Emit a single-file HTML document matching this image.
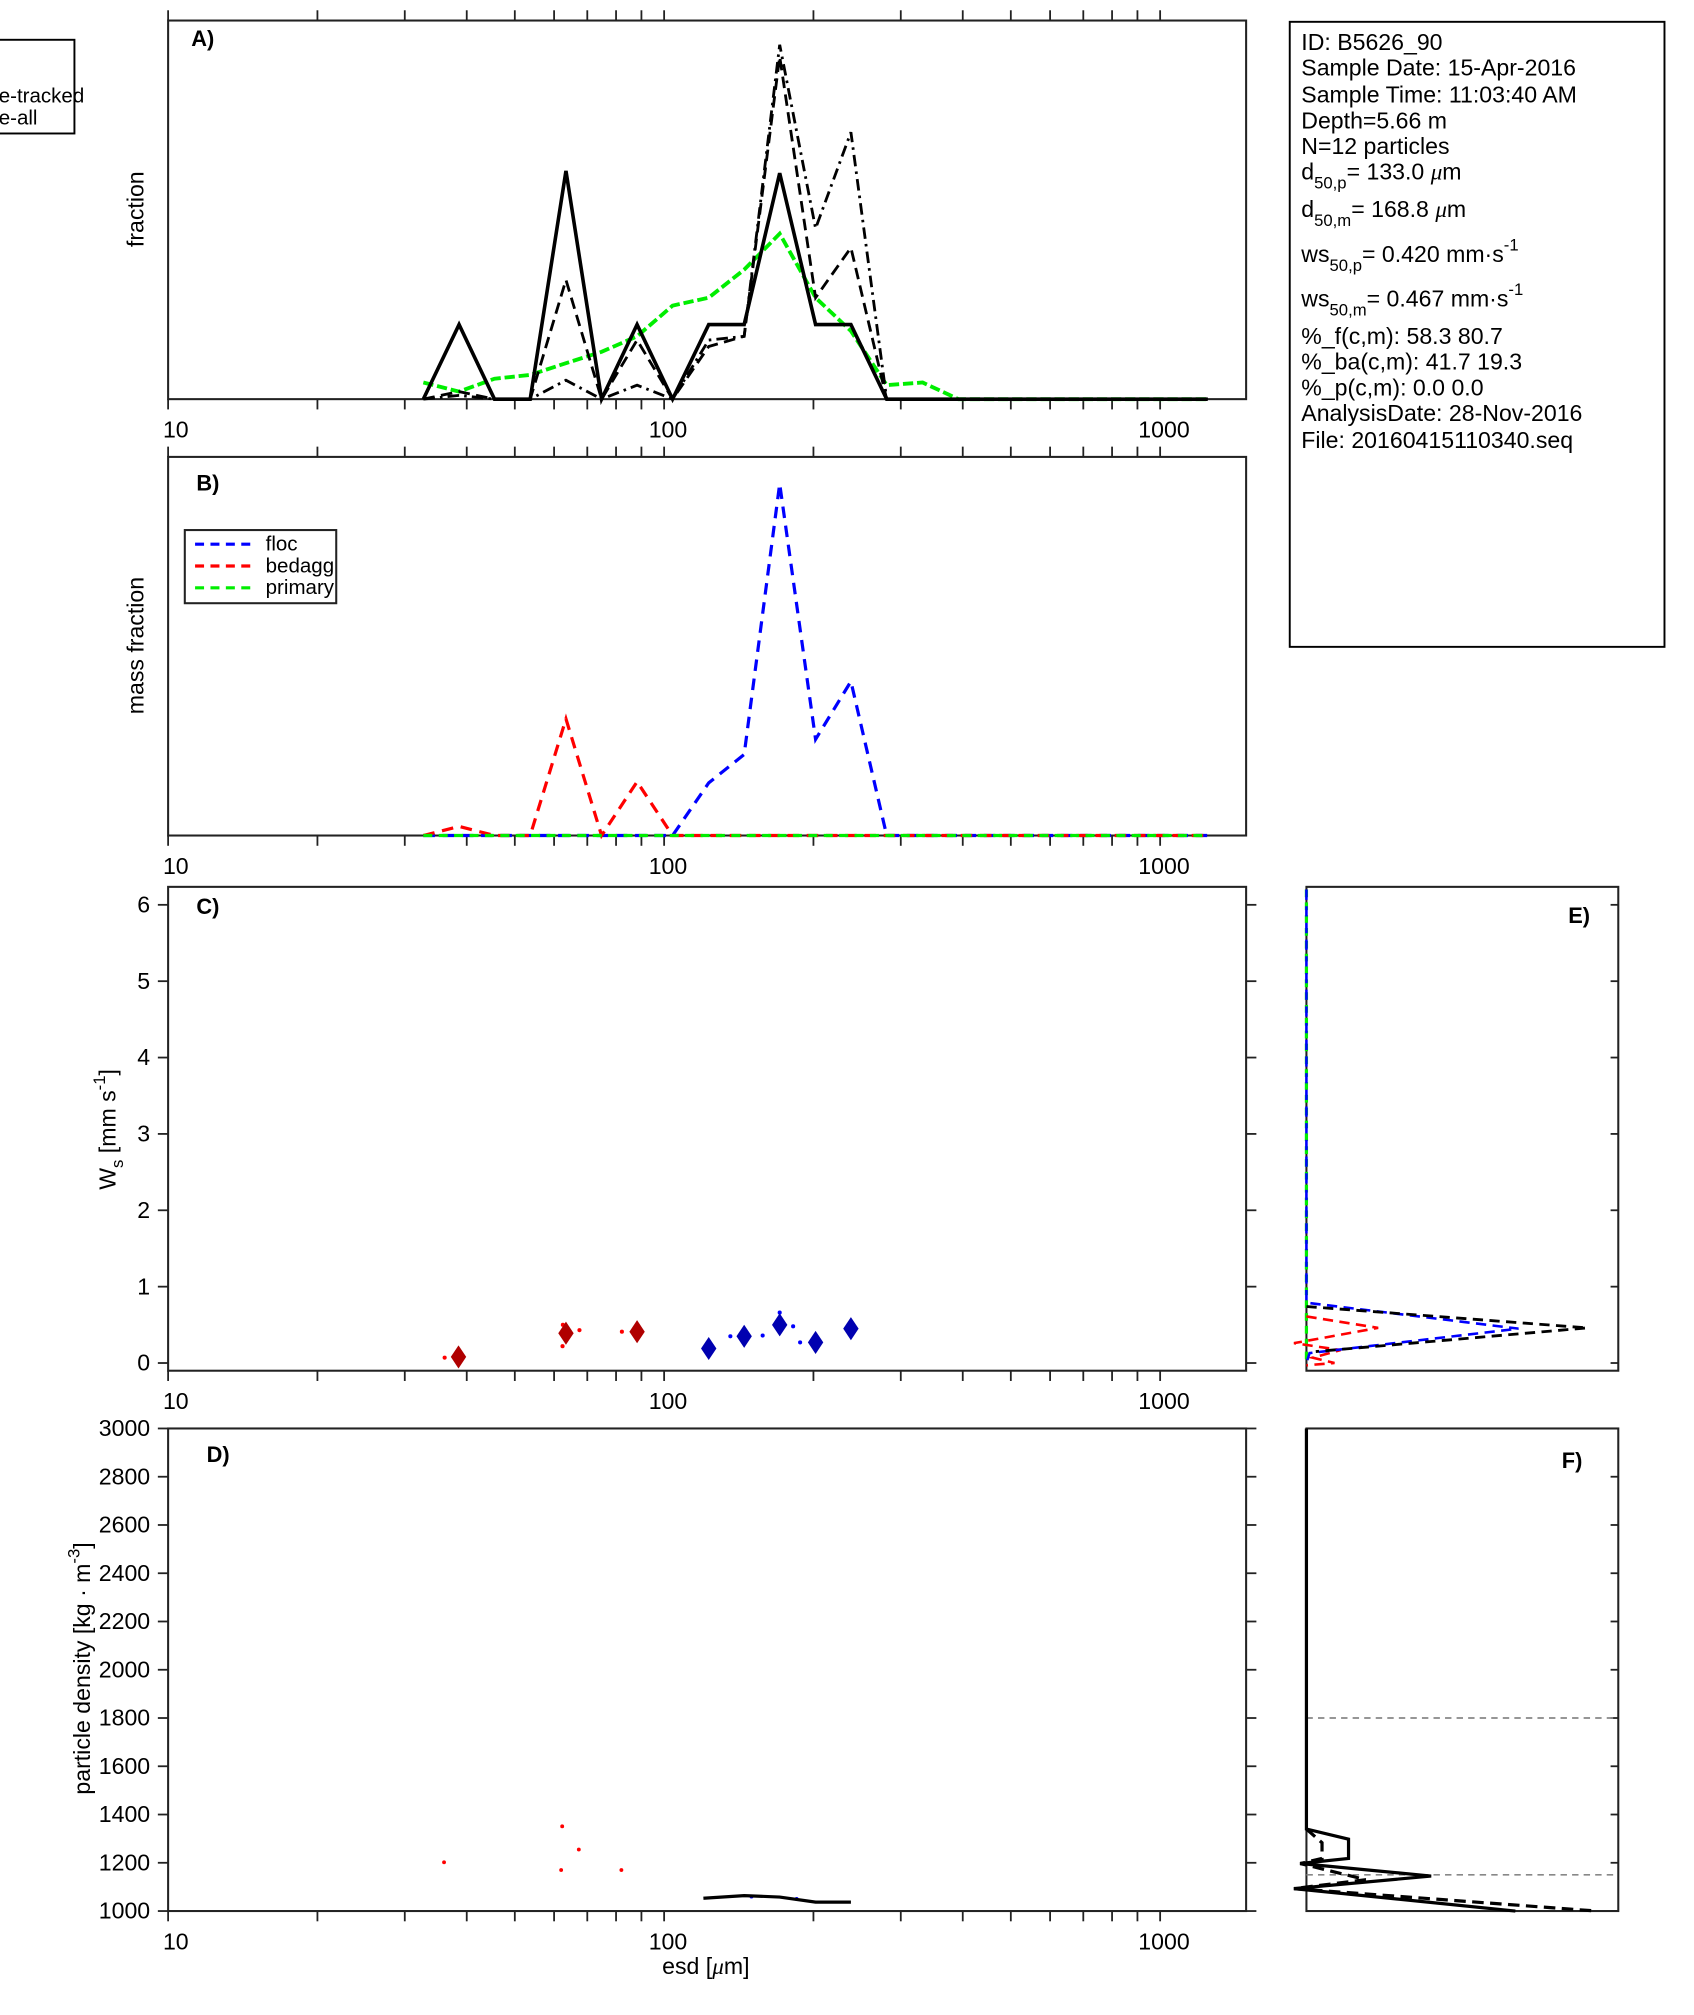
<!DOCTYPE html>
<html><head><meta charset="utf-8"><style>
html,body{margin:0;padding:0;background:#fff;}
svg{display:block;}
text{font-family:"Liberation Sans",sans-serif;fill:#000;}
</style></head>
<body>
<svg id="fig" width="1694" height="2015" viewBox="0 0 1320 1570" preserveAspectRatio="none" xmlns="http://www.w3.org/2000/svg">
<rect x="0" y="0" width="1320" height="1570" fill="#fff"/>
<g>
<rect x="-2" y="31" width="60" height="73" fill="#fff" stroke="#000" stroke-width="1.5"/>
<text x="-1" y="80" font-size="16">e-tracked</text>
<text x="-1" y="97" font-size="16">e-all</text>
</g>
<g font-size="18">
<rect x="1005" y="17" width="292" height="487" fill="#fff" stroke="#000" stroke-width="1.5"/>
<text x="1014" y="39">ID: B5626_90</text>
<text x="1014" y="59">Sample Date: 15-Apr-2016</text>
<text x="1014" y="80">Sample Time: 11:03:40 AM</text>
<text x="1014" y="100">Depth=5.66 m</text>
<text x="1014" y="120">N=12 particles</text>
<text x="1014" y="140">d<tspan font-size="13" dy="7">50,p</tspan><tspan dy="-7">= 133.0 </tspan><tspan font-family="Liberation Serif" font-style="italic">μ</tspan>m</text>
<text x="1014" y="169">d<tspan font-size="13" dy="7">50,m</tspan><tspan dy="-7">= 168.8 </tspan><tspan font-family="Liberation Serif" font-style="italic">μ</tspan>m</text>
<text x="1014" y="204">ws<tspan font-size="13" dy="7">50,p</tspan><tspan dy="-7">= 0.420 mm·s</tspan><tspan font-size="13" dy="-9">-1</tspan></text>
<text x="1014" y="239">ws<tspan font-size="13" dy="7">50,m</tspan><tspan dy="-7">= 0.467 mm·s</tspan><tspan font-size="13" dy="-9">-1</tspan></text>
<text x="1014" y="268">%_f(c,m): 58.3 80.7</text>
<text x="1014" y="288">%_ba(c,m): 41.7 19.3</text>
<text x="1014" y="308">%_p(c,m): 0.0 0.0</text>
<text x="1014" y="328">AnalysisDate: 28-Nov-2016</text>
<text x="1014" y="349">File: 20160415110340.seq</text>
</g>
<g id="plots"></g>
</svg>
<script>
const bins = [32.7,38.6,45.5,53.7,63.4,74.8,88.2,104,123,145,171,202,238,281,332,392,462,545,643,759,896,1057,1247];
const fracTracked = [0,0.197,0,0,0.603,0,0.197,0,0.197,0.197,0.597,0.197,0.197,0,0,0,0,0,0,0,0,0,0];
const fracDashed  = [0,0.02,0,0,0.315,0,0.156,0,0.139,0.166,0.905,0.268,0.40,0,0,0,0,0,0,0,0,0,0];
const fracDashDot = [0,0.01,0,0,0.05,0,0.037,0,0.156,0.166,0.936,0.451,0.705,0,0,0,0,0,0,0,0,0,0];
const fracPrimary = [0.044,0.02,0.054,0.064,0.095,0.125,0.166,0.247,0.268,0.342,0.437,0.268,0.18,0.037,0.044,0,0,0,0,0,0,0,0];
const massFloc    = [0,0,0,0,0,0,0,0,0.139,0.214,0.929,0.254,0.407,0,0,0,0,0,0,0,0,0,0];
const massBedagg  = [0,0.024,0,0,0.308,0,0.142,0,0,0,0,0,0,0,0,0,0,0,0,0,0,0,0];
const massPrimary = [0,0,0,0,0,0,0,0,0,0,0,0,0,0,0,0,0,0,0,0,0,0,0];
const wsBedaggSize = [38.5,63.4,88.2];
const wsBedaggVal  = [0.08,0.39,0.41];
const wsFlocSize   = [123,145,171,202,238];
const wsFlocVal    = [0.19,0.35,0.50,0.27,0.45];
const wsRedDotSize = [36.1,62.5,62.4,67.5,82.2];
const wsRedDotVal  = [0.07,0.50,0.22,0.43,0.41];
const wsBlueDotSize= [136,158,171,182,188];
const wsBlueDotVal = [0.35,0.36,0.66,0.48,0.27];
const rhoRedSize = [36.0,62.3,67.3,62.0,82.0];
const rhoRedVal  = [1202,1351,1255,1170,1170];
const rhoLineSize = [120,145,171,202,238];
const rhoLineVal  = [1053,1064,1058,1037,1037];
const rhoBlueDotSize = [150,185];
const rhoBlueDotVal  = [1060,1050];
const eBlueWs = [6.2,0.79,0.45,0.13,0];
const eBlueFr = [0,0,0.68,0.01,0];
const eBlackWs = [0.74,0.46,0.15];
const eBlackFr = [0,0.90,0.03];
const eRedWs = [0.61,0.46,0.26,0.17,0.07,0.0,-0.03];
const eRedFr = [0,0.23,-0.04,0.11,0.02,0.09,0];
const eGreenWs = [6.2,0];
const eGreenFr = [0,0];
const fSolidRho = [3000,1340,1298,1218,1197,1145,1093,1000];
const fSolidFr  = [0,0,0.135,0.135,-0.02,0.40,-0.04,0.67];
const fDashRho  = [1340,1283,1218,1197,1130,1093,1000];
const fDashFr   = [0,0.05,0.05,-0.02,0.19,-0.04,0.93];
const fRefRho = [1800,1150];
const xMajor = [10,100,1000];
const xMinor = [20,30,40,50,60,70,80,90,200,300,400,500,600,700,800,900];
const wsTicks = [0,1,2,3,4,5,6];
const rhoTicks = [1000,1200,1400,1600,1800,2000,2200,2400,2600,2800,3000];

const NS='http://www.w3.org/2000/svg';
const root=document.getElementById('plots');
function mk(tag,attrs,parent){const e=document.createElementNS(NS,tag);for(const k in attrs)e.setAttribute(k,attrs[k]);(parent||root).appendChild(e);return e;}
const X0=131, DEC=386.5, XR=971;
function xs(v){return X0+DEC*Math.log10(v/10);}
const panA={top:16,bot:311}, panB={top:356,bot:651}, panC={top:691,bot:1068}, panD={top:1113,bot:1489};
function yA(v){return panA.bot-v*(panA.bot-panA.top);}
function yB(v){return panB.bot-v*(panB.bot-panB.top);}
function yC(v){return 1062-v*59.5;}
function yD(v){return 1489-(v-1000)/200*37.6;}
const EX0=1018, EX1=1261;
function xE(f){return EX0+f*(EX1-EX0);}
function pts(xa,ya,fx,fy){return xa.map((v,i)=>fx(v)+','+fy(ya[i])).join(' ');}

function frame(p,name,topTicks){
  const g=mk('g',{});
  
  
  mk('rect',{x:X0,y:p.top,width:XR-X0,height:p.bot-p.top,fill:'none',stroke:'#222','stroke-width':1.6},g);
  xMajor.concat(xMinor).forEach(v=>{
    const x=xs(v);
    mk('line',{x1:x,x2:x,y1:p.bot,y2:p.bot+8,stroke:'#222','stroke-width':1.4},g);
    if(topTicks) mk('line',{x1:x,x2:x,y1:p.top,y2:p.top-8,stroke:'#222','stroke-width':1.4},g);
  });
  xMajor.forEach(v=>{
    const t=mk('text',{x:xs(v)+(v===10?6:3),y:p.bot+30,'font-size':18,'text-anchor':'middle'},g);
    t.textContent=String(v);
  });
  return g;
}
function line(name,xa,ya,fx,fy,color,w,dash){
  const e=mk('polyline',{points:pts(xa,ya,fx,fy),fill:'none',stroke:color,'stroke-width':w,'stroke-linejoin':'miter'});
  if(dash) e.setAttribute('stroke-dasharray',dash);
  
  
  return e;
}
function label(txt,x,y,size,extra){
  const t=mk('text',Object.assign({x:x,y:y,'font-size':size},extra||{}));
  t.textContent=txt;return t;
}

frame(panA,'panel-a-axes',true);
line('series-primary-fraction',bins,fracPrimary,xs,yA,'#00ee00',3,'8,3');
line('series-tracked-fraction',bins,fracTracked,xs,yA,'#000',2.8,null);
line('series-all-fraction',bins,fracDashed,xs,yA,'#000',2.2,'9,5');
line('series-dashdot-fraction',bins,fracDashDot,xs,yA,'#000',2.2,'9,4,2,4');
const la=label('A)',149,36,17,{'font-weight':'bold'});


const ya=label('fraction',112,163,18,{'text-anchor':'middle',transform:'rotate(-90 112 163)'});



frame(panB,'panel-b-axes',true);
line('series-floc-mass',bins,massFloc,xs,yB,'#0000ff',2.5,'9,6');
line('series-bedagg-mass',bins,massBedagg,xs,yB,'#ff0000',2.5,'9,6');
line('series-primary-mass',bins,massPrimary,xs,yB,'#00ee00',2.5,'7,5');
const lb=label('B)',153,382,17,{'font-weight':'bold'});


const yb=label('mass fraction',112,503,18,{'text-anchor':'middle',transform:'rotate(-90 112 503)'});


const leg=mk('g',{});


mk('rect',{x:144,y:413,width:118,height:57,fill:'#fff',stroke:'#222','stroke-width':1.6},leg);
[['floc','#0000ff',424],['bedagg','#ff0000',441],['primary','#00ee00',458]].forEach(r=>{
  const ent=mk('g',{},leg);
  
  
  mk('line',{x1:152,x2:200,y1:r[2],y2:r[2],stroke:r[1],'stroke-width':2.5,'stroke-dasharray':'7,5'},ent);
  const t=mk('text',{x:207,y:r[2]+5,'font-size':16},ent);t.textContent=r[0];
});

frame(panC,'panel-c-axes',false);
wsTicks.forEach(v=>{
  mk('line',{x1:123,x2:X0,y1:yC(v),y2:yC(v),stroke:'#222','stroke-width':1.4});
  mk('line',{x1:XR,x2:XR+8,y1:yC(v),y2:yC(v),stroke:'#222','stroke-width':1.4});
  const t=label(String(v),117,yC(v)+6,18,{'text-anchor':'end'});
  
  
});
const lc=label('C)',153,712,17,{'font-weight':'bold'});


const yc=mk('text',{x:90,y:880,'font-size':18,'text-anchor':'middle',transform:'rotate(-90 90 880)'});
yc.innerHTML='W<tspan font-size="13" dy="6">s</tspan><tspan dy="-6"> [mm s</tspan><tspan font-size="13" dy="-8">-1</tspan><tspan dy="8">]</tspan>';


function diamond(x,y,c,name){
  const d=mk('polygon',{points:`${x},${y-9} ${x+6},${y} ${x},${y+9} ${x-6},${y}`,fill:c});
  
  
}
function dot(x,y,c,r,name){
  const d=mk('circle',{cx:x,cy:y,r:r,fill:c});
  
  
}
wsRedDotSize.forEach((s,i)=>dot(xs(s),yC(wsRedDotVal[i]),'#ff0000',1.6,'ws-bedagg-particle'));
wsBlueDotSize.forEach((s,i)=>dot(xs(s),yC(wsBlueDotVal[i]),'#0000ff',1.6,'ws-floc-particle'));
wsBedaggSize.forEach((s,i)=>diamond(xs(s),yC(wsBedaggVal[i]),'#b00000','ws-bedagg-median'));
wsFlocSize.forEach((s,i)=>diamond(xs(s),yC(wsFlocVal[i]),'#0000b0','ws-floc-median'));

frame(panD,'panel-d-axes',false);
rhoTicks.forEach(v=>{
  mk('line',{x1:123,x2:X0,y1:yD(v),y2:yD(v),stroke:'#222','stroke-width':1.4});
  mk('line',{x1:XR,x2:XR+8,y1:yD(v),y2:yD(v),stroke:'#222','stroke-width':1.4});
  const t=label(String(v),117,yD(v)+6,18,{'text-anchor':'end'});
  
  
});
const ld=label('D)',161,1139,17,{'font-weight':'bold'});


const yd=mk('text',{x:70,y:1300,'font-size':18,'text-anchor':'middle',transform:'rotate(-90 70 1300)'});
yd.innerHTML='particle density [kg · m<tspan font-size="13" dy="-8">-3</tspan><tspan dy="8">]</tspan>';


const xd=mk('text',{x:550,y:1538,'font-size':18,'text-anchor':'middle'});
xd.innerHTML='esd [<tspan font-family="Liberation Serif" font-style="italic">μ</tspan>m]';


rhoRedSize.forEach((s,i)=>dot(xs(s),yD(rhoRedVal[i]),'#ff0000',1.5,'density-bedagg-particle'));
rhoBlueDotSize.forEach((s,i)=>dot(xs(s),yD(rhoBlueDotVal[i]),'#0000ff',1.5,'density-floc-particle'));
line('density-floc-median',rhoLineSize,rhoLineVal,xs,yD,'#000',2.5,null);

const gE=mk('g',{});


mk('rect',{x:EX0,y:panC.top,width:EX1-EX0,height:panC.bot-panC.top,fill:'none',stroke:'#222','stroke-width':1.6},gE);
wsTicks.forEach(v=>mk('line',{x1:EX1-6,x2:EX1,y1:yC(v),y2:yC(v),stroke:'#222','stroke-width':1.4},gE));
const le=label('E)',1222,719,17,{'font-weight':'bold'});


line('e-green-profile',eGreenFr,eGreenWs,xE,yC,'#00ee00',2.5,'6,4');
line('e-red-profile',eRedFr,eRedWs,xE,yC,'#ff0000',2,'8,5');
line('e-blue-profile',eBlueFr,eBlueWs,xE,yC,'#0000ff',2,'8,5');
line('e-black-profile',eBlackFr,eBlackWs,xE,yC,'#000',2.2,'8,5');

const gF=mk('g',{});


mk('rect',{x:EX0,y:panD.top,width:EX1-EX0,height:panD.bot-panD.top,fill:'none',stroke:'#222','stroke-width':1.6},gF);
rhoTicks.forEach(v=>mk('line',{x1:EX1-6,x2:EX1,y1:yD(v),y2:yD(v),stroke:'#222','stroke-width':1.4},gF));
fRefRho.forEach(v=>{
  const r=mk('line',{x1:EX0,x2:EX1,y1:yD(v),y2:yD(v),stroke:'#888','stroke-width':1.3,'stroke-dasharray':'5,4'});
  
  
});
const lf=label('F)',1217,1144,17,{'font-weight':'bold'});


line('f-solid-profile',fSolidFr,fSolidRho,xE,yD,'#000',2.5,null);
line('f-dashed-profile',fDashFr,fDashRho,xE,yD,'#000',2.5,'9,5');
</script>
</body></html>
